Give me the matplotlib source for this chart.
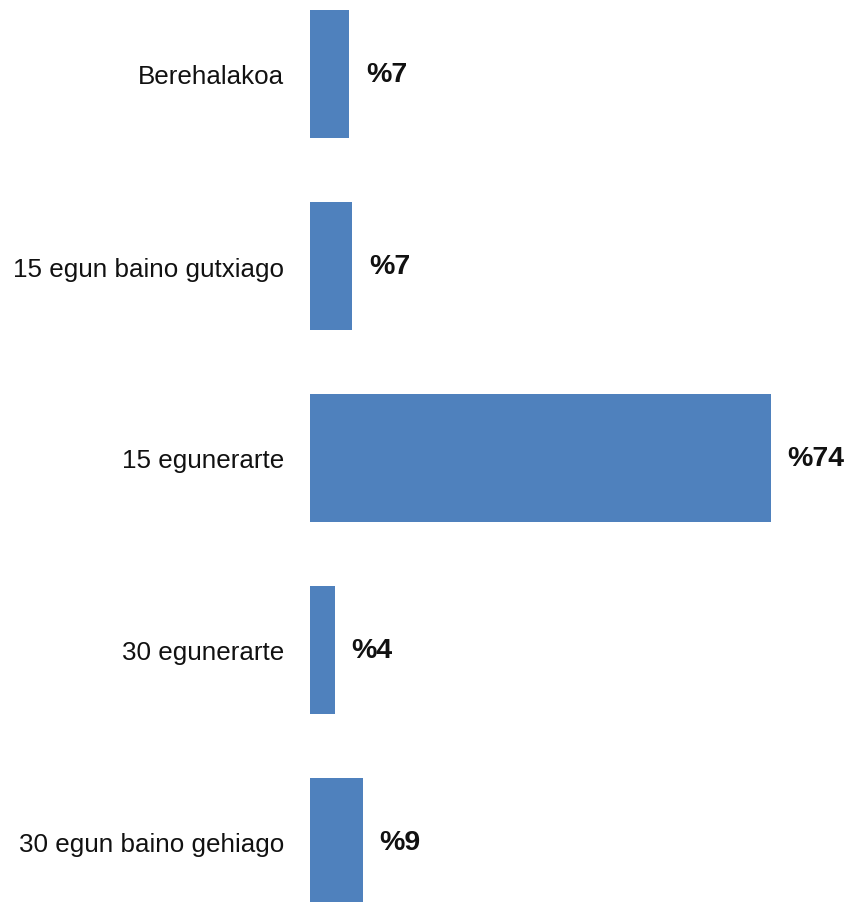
import matplotlib.pyplot as plt

# data
categories = ["Berehalakoa", "15 egun baino gutxiago", "15 egunerarte",
              "30 egunerarte", "30 egun baino gehiago"]
values = [6.3, 6.8, 74.0, 4.0, 8.5]
labels = ["%7", "%7", "%74", "%4", "%9"]

plt.rcParams['font.family'] = ['Liberation Sans', 'DejaVu Sans']

fig = plt.figure(figsize=(8.56, 9.03), dpi=100)
ax = fig.add_axes([310 / 856, 0, 1 - 310 / 856, 1])

y = list(range(len(categories)))
ax.barh(y, values, height=2 / 3, color="#4F81BD")

# value labels
for yi, v, lab in zip(y, values, labels):
    ax.annotate(lab, (v, yi), xytext=(12, 0), textcoords="offset points",
                ha="left", va="center", fontsize=20.5, fontweight="bold",
                color="#111111")

ax.set_yticks(y)
ax.set_yticklabels(categories, fontsize=18.7, color="#111111")
ax.tick_params(axis="y", length=0, pad=18.7)
ax.set_xticks([])
ax.set_ylim(4 + 60 / 192, -75 / 192)
ax.set_xlim(0, 546 / 6.23)
for s in ax.spines.values():
    s.set_visible(False)

plt.savefig("out.png", dpi=100)
